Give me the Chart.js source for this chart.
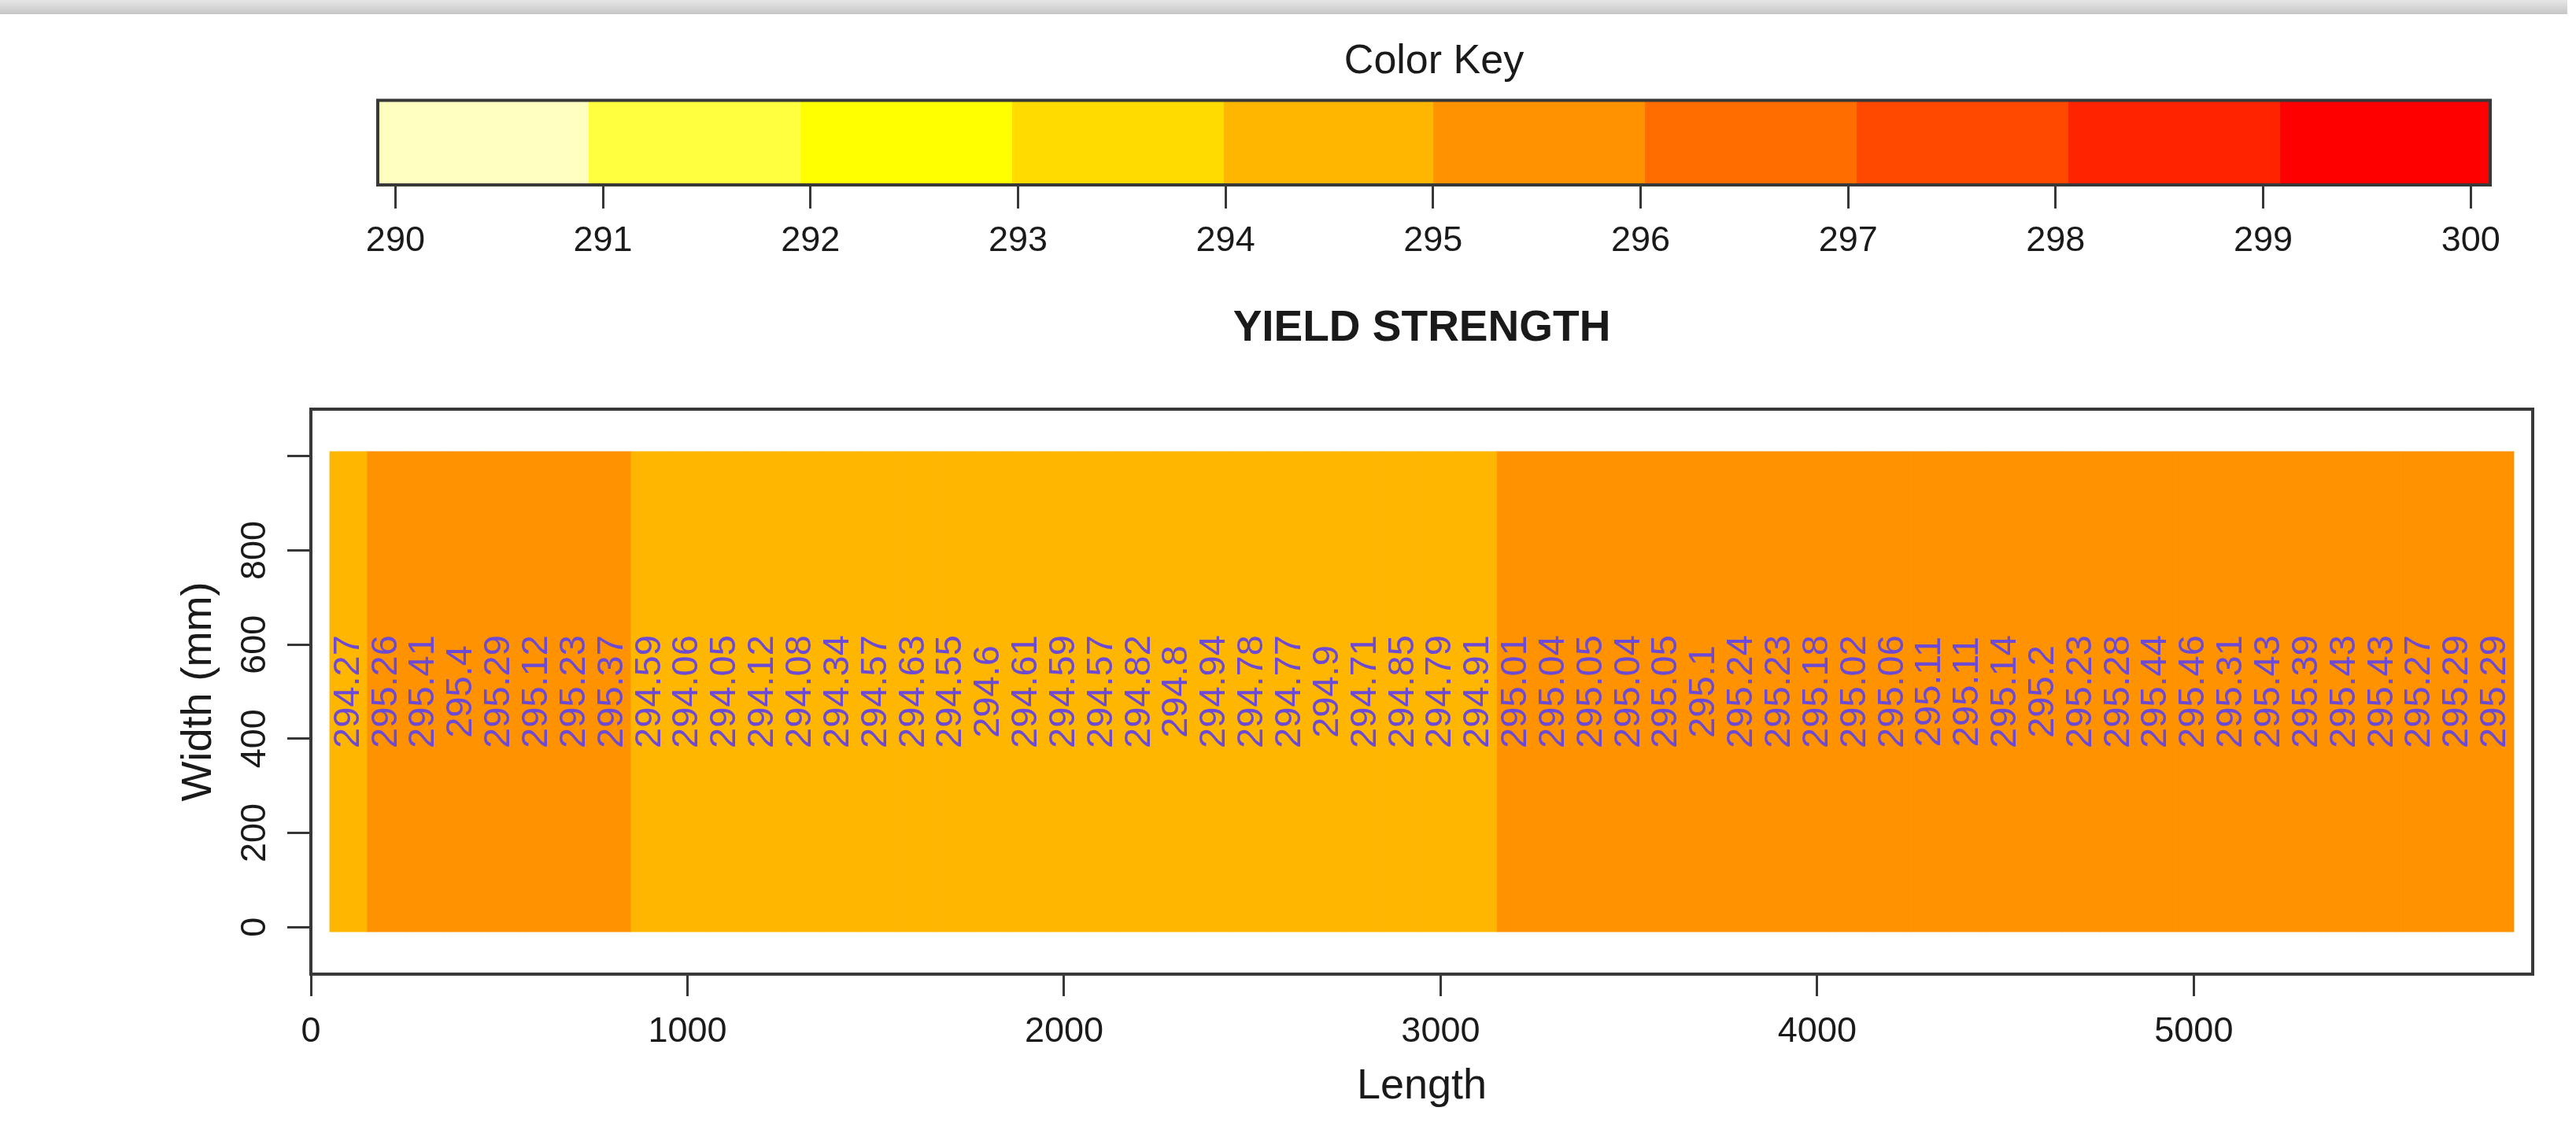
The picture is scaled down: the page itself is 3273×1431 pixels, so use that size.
<!DOCTYPE html>
<html>
<head>
<meta charset="utf-8">
<title>Yield strength map</title>
<script src="https://cdn.jsdelivr.net/npm/chart.js@4/dist/chart.umd.min.js"></script>
<style>
  html, body { margin: 0; padding: 0; background: #ffffff; width: 3273px; height: 1431px; overflow: hidden; }
  #band { position: absolute; left: 0; top: 0; width: 3262px; height: 18px; background: linear-gradient(#e6e6e6, #c6c6c6); }
  #key { position: absolute; left: 0; top: 0; }
  #main { position: absolute; left: 0; top: 370px; }
</style>
</head>
<body>
<div id="band"></div>
<canvas id="key" width="3273" height="370"></canvas>
<canvas id="main" width="3273" height="1061"></canvas>
<script>
// Strip positions along the length (mm), one cell per 100 mm
const cellLength = [
  100, 200, 300, 400, 500, 600, 700, 800, 900, 1000,
  1100, 1200, 1300, 1400, 1500, 1600, 1700, 1800, 1900, 2000,
  2100, 2200, 2300, 2400, 2500, 2600, 2700, 2800, 2900, 3000,
  3100, 3200, 3300, 3400, 3500, 3600, 3700, 3800, 3900, 4000,
  4100, 4200, 4300, 4400, 4500, 4600, 4700, 4800, 4900, 5000,
  5100, 5200, 5300, 5400, 5500, 5600, 5700, 5800
];

// Yield strength of each cell
const yieldStrength = [
  294.27, 295.26, 295.41, 295.4, 295.29, 295.12, 295.23, 295.37, 294.59, 294.06,
  294.05, 294.12, 294.08, 294.34, 294.57, 294.63, 294.55, 294.6, 294.61, 294.59,
  294.57, 294.82, 294.8, 294.94, 294.78, 294.77, 294.9, 294.71, 294.85, 294.79,
  294.91, 295.01, 295.04, 295.05, 295.04, 295.05, 295.1, 295.24, 295.23, 295.18,
  295.02, 295.06, 295.11, 295.11, 295.14, 295.2, 295.23, 295.28, 295.44, 295.46,
  295.31, 295.43, 295.39, 295.43, 295.43, 295.27, 295.29, 295.29
];

// Width range covered by every cell (mm)
const cellWidthRange = [-10, 1010];

// Axis ticks
const xTickValues = [0, 1000, 2000, 3000, 4000, 5000];
const yTickValues = [0, 200, 400, 600, 800, 1000];
const yTickLabels = ['0', '200', '400', '600', '800', ''];

// Colour key: bin edges, bin colours and tick values
const keyBreaks = [289.915, 290.93, 291.95, 292.97, 293.99, 295.0, 296.02, 297.04, 298.06, 299.08, 300.094];
const keyColors = ['#FFFFBF', '#FFFF40', '#FFFF00', '#FFDB00', '#FFB600', '#FF9200', '#FF6D00', '#FF4900', '#FF2400', '#FF0000'];
const keyTickValues = [290, 291, 292, 293, 294, 295, 296, 297, 298, 299, 300];

const FONT = "'Liberation Sans', Arial, Helvetica, sans-serif";
const INK = '#1a1a1a';
const LINE = '#383838';

function binColor(v) {
  for (let k = 0; k < keyColors.length; k++) {
    if (v >= keyBreaks[k] && v < keyBreaks[k + 1]) return keyColors[k];
  }
  return keyColors[keyColors.length - 1];
}

// Box around the plotting region
const framePlugin = {
  id: 'frame',
  afterDatasetsDraw(chart, args, opts) {
    const a = chart.chartArea, ctx = chart.ctx;
    ctx.save();
    ctx.strokeStyle = opts.color;
    ctx.lineWidth = opts.width;
    ctx.strokeRect(a.left, a.top, a.right - a.left, a.bottom - a.top);
    ctx.restore();
  }
};

// Vertical value labels written on each cell
const cellLabelPlugin = {
  id: 'cellLabels',
  afterDatasetsDraw(chart, args, opts) {
    if (!opts.show) return;
    const meta = chart.getDatasetMeta(0);
    const y = chart.scales.y.getPixelForValue(opts.at);
    const ctx = chart.ctx;
    ctx.save();
    ctx.font = opts.font;
    ctx.fillStyle = opts.color;
    ctx.textAlign = 'center';
    ctx.textBaseline = 'middle';
    meta.data.forEach((bar, i) => {
      ctx.save();
      ctx.translate(bar.x, y);
      ctx.rotate(-Math.PI / 2);
      ctx.fillText(String(yieldStrength[i]), 0, 0);
      ctx.restore();
    });
    ctx.restore();
  }
};

// ---- Colour key ----
new Chart(document.getElementById('key'), {
  type: 'bar',
  data: {
    labels: [''],
    datasets: keyColors.map((c, k) => ({
      data: [[keyBreaks[k], keyBreaks[k + 1]]],
      backgroundColor: c,
      borderWidth: 0,
      grouped: false,
      barPercentage: 1,
      categoryPercentage: 1
    }))
  },
  options: {
    indexAxis: 'y',
    responsive: false,
    animation: false,
    devicePixelRatio: 1,
    layout: { padding: { left: 480, right: 109, top: 0, bottom: 0 } },
    plugins: {
      legend: { display: false },
      tooltip: { enabled: false },
      title: {
        display: true,
        text: 'Color Key',
        fullSize: false,
        color: INK,
        font: { family: FONT, size: 52, weight: 'normal' },
        padding: { top: 47.8, bottom: 17.3 }
      },
      frame: { color: LINE, width: 4 },
      cellLabels: { show: false }
    },
    scales: {
      y: { type: 'category', display: false },
      x: {
        type: 'linear',
        min: keyBreaks[0],
        max: keyBreaks[keyBreaks.length - 1],
        afterBuildTicks: s => { s.ticks = keyTickValues.map(v => ({ value: v })); },
        afterFit: s => { s.height = 135; },
        border: { display: false },
        grid: { drawOnChartArea: false, drawTicks: true, tickLength: 30, tickColor: LINE, tickWidth: 3 },
        ticks: { autoSkip: false, maxRotation: 0, color: INK, font: { family: FONT, size: 45 }, padding: 15,
                 callback: v => String(v) }
      }
    }
  },
  plugins: [framePlugin, cellLabelPlugin]
});

// ---- Yield strength map ----
new Chart(document.getElementById('main'), {
  type: 'bar',
  data: {
    datasets: [{
      data: cellLength.map((x, i) => ({ x: x, y: cellWidthRange })),
      backgroundColor: yieldStrength.map(binColor),
      borderWidth: 0,
      barPercentage: 1,
      categoryPercentage: 1
    }]
  },
  options: {
    responsive: false,
    animation: false,
    devicePixelRatio: 1,
    layout: { padding: { left: 0, right: 55, top: 0, bottom: 0 } },
    plugins: {
      legend: { display: false },
      tooltip: { enabled: false },
      title: {
        display: true,
        text: 'YIELD STRENGTH',
        fullSize: false,
        color: INK,
        font: { family: FONT, size: 55, weight: 'bold' },
        padding: { top: 15, bottom: 69 }
      },
      frame: { color: LINE, width: 4 },
      cellLabels: { show: true, at: 500, color: '#6c4ad4', font: '47px ' + FONT }
    },
    scales: {
      x: {
        type: 'linear',
        min: 0,
        max: 5900,
        offset: false,
        afterBuildTicks: s => { s.ticks = xTickValues.map(v => ({ value: v })); },
        afterFit: s => { s.height = 193; },
        border: { display: false },
        grid: { offset: false, drawOnChartArea: false, drawTicks: true, tickLength: 28, tickColor: LINE, tickWidth: 3 },
        ticks: { autoSkip: false, maxRotation: 0, color: INK, font: { family: FONT, size: 45 }, padding: 19,
                 callback: v => String(v) },
        title: { display: true, text: 'Length', color: INK, font: { family: FONT, size: 54 }, padding: { top: 0, bottom: 17 } }
      },
      y: {
        type: 'linear',
        min: -100,
        max: 1100,
        afterBuildTicks: s => { s.ticks = yTickValues.map(v => ({ value: v })); },
        afterFit: s => { s.width = 395; },
        border: { display: false },
        grid: { drawOnChartArea: false, drawTicks: true, tickLength: 30, tickColor: LINE, tickWidth: 3 },
        ticks: { autoSkip: false, minRotation: 90, maxRotation: 90, crossAlign: 'center', color: INK,
                 font: { family: FONT, size: 45 }, padding: 3,
                 callback: (v, i) => yTickLabels[i] },
        title: { display: true, text: 'Width (mm)', color: INK, font: { family: FONT, size: 54 }, padding: { top: 221, bottom: 0 } }
      }
    }
  },
  plugins: [framePlugin, cellLabelPlugin]
});
</script>
</body>
</html>
